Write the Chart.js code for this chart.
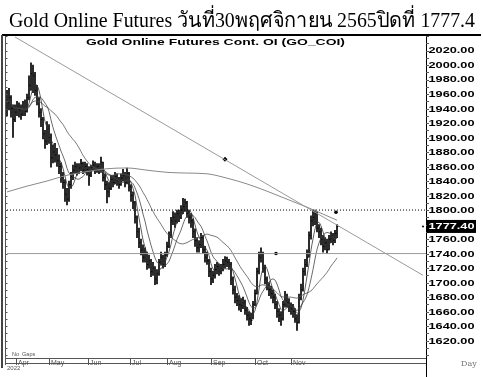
<!DOCTYPE html>
<html><head><meta charset="utf-8">
<script src="https://cdn.jsdelivr.net/npm/chart.js@4.4.0/dist/chart.umd.min.js"></script>
<style>html,body{margin:0;padding:0;background:#fff;}#wrap{position:relative;width:483px;height:377px;}</style>
</head><body><div id="wrap"><canvas id="c" width="483" height="377"></canvas></div>
<script>
const titleText = 'Gold Online Futures วันที่30พฤศจิกายน 2565ปิดที่ 1777.4';
const chartLabel = 'Gold Online Futures Cont. OI (GO_COI)';
const closes = [1948,1955,1940,1925,1935,1942,1938,1932,1940,1936,
1955,1972,1988,1985,1965,1950,1935,1925,1905,1895,
1912,1900,1872,1880,1876,1868,1860,1845,1838,1822,
1815,1835,1846,1855,1860,1852,1858,1864,1855,1860,
1856,1848,1858,1862,1855,1860,1857,1866,1845,1835,
1825,1830,1842,1838,1846,1840,1835,1844,1848,1838,
1850,1832,1820,1810,1790,1770,1755,1745,1735,1740,
1725,1730,1715,1720,1705,1712,1728,1735,1725,1738,
1750,1765,1785,1790,1785,1795,1790,1800,1805,1810,
1795,1790,1785,1770,1758,1748,1752,1762,1745,1735,
1730,1715,1705,1710,1718,1722,1715,1720,1725,1730,
1728,1725,1705,1690,1680,1675,1670,1668,1672,1662,
1655,1650,1648,1670,1685,1715,1735,1740,1720,1705,
1695,1690,1685,1680,1670,1660,1655,1650,1670,1680,
1672,1668,1665,1660,1650,1645,1680,1690,1715,1725,
1735,1765,1785,1790,1795,1775,1770,1760,1750,1755,
1745,1760,1765,1758,1768,1777.4];
const highs = [1965,1968,1958,1945,1945,1950,1948,1945,1950,1952,
1960,1985,2003,2000,1990,1972,1955,1940,1928,1910,
1922,1918,1905,1890,1892,1885,1876,1865,1852,1842,
1830,1840,1852,1862,1866,1864,1864,1870,1866,1866,
1864,1860,1862,1868,1866,1864,1864,1873,1866,1850,
1840,1838,1848,1848,1852,1850,1845,1850,1856,1852,
1858,1852,1835,1825,1812,1792,1775,1760,1752,1748,
1742,1738,1732,1728,1722,1718,1732,1742,1738,1742,
1756,1770,1790,1798,1796,1800,1800,1806,1816,1815,
1812,1800,1795,1788,1774,1762,1758,1768,1765,1750,
1742,1732,1720,1716,1725,1728,1726,1725,1732,1736,
1735,1732,1728,1708,1695,1685,1682,1678,1680,1676,
1666,1660,1658,1674,1690,1720,1742,1748,1742,1724,
1708,1700,1695,1690,1684,1674,1664,1660,1674,1688,
1684,1678,1672,1670,1664,1656,1684,1698,1720,1732,
1745,1770,1792,1800,1800,1798,1780,1775,1765,1762,
1760,1765,1770,1768,1772,1780];
const lows = [1930,1938,1928,1900,1922,1930,1928,1925,1930,1930,
1935,1952,1965,1962,1958,1945,1928,1915,1898,1885,
1890,1892,1859,1865,1866,1860,1850,1838,1830,1812,
1807,1812,1830,1842,1850,1848,1850,1854,1850,1852,
1848,1834,1846,1854,1850,1852,1850,1852,1840,1828,
1810,1818,1828,1832,1836,1834,1830,1834,1840,1832,
1836,1826,1812,1802,1782,1762,1748,1738,1728,1728,
1718,1720,1708,1710,1697,1698,1710,1724,1720,1722,
1736,1748,1762,1780,1776,1782,1784,1788,1795,1798,
1790,1782,1776,1762,1750,1742,1742,1748,1740,1728,
1725,1708,1697,1700,1706,1712,1710,1712,1716,1720,
1722,1718,1697,1684,1672,1668,1662,1660,1664,1656,
1648,1641,1642,1650,1668,1684,1712,1728,1714,1698,
1690,1682,1678,1672,1664,1652,1646,1641,1648,1666,
1666,1660,1656,1652,1645,1634,1644,1676,1688,1710,
1722,1735,1760,1778,1780,1770,1762,1752,1742,1745,
1740,1745,1755,1752,1755,1762];
const longMAIdx = [0,10,20,30,40,50,60,70,80,90,100,110,120,130,140,150,160,165];
const longMAVal = [1825,1833,1840,1848,1853,1857,1858,1855,1852,1851,1850,1844,1836,1826,1815,1804,1792,1786];
const maPeriods = [5,10,25];
const months = ['Apr','May','Jun','Jul','Aug','Sep','Oct','Nov'];
const monthStart = [4.5,21,40.5,61.5,80,102,124,142];
const yTicks = [2020,2000,1980,1960,1940,1920,1900,1880,1860,1840,1820,1800,1760,1740,1720,1700,1680,1660,1640,1620];
const lastPrice = 1777.4;
const trendPts = [[4,2038.6],[208,1710]];
const resistance = 1800, support = 1740;
const diamondPt = [109,1870];
const dotPts = [[164.5,1797],[134.5,1740]];

function sma(arr,n){return arr.map((v,i)=>{const s=Math.max(0,i-n+1);let t=0;for(let k=s;k<=i;k++)t+=arr[k];return t/(i-s+1);});}

const datasets = [];
datasets.push({type:'line',data:trendPts.map(p=>({x:p[0],y:p[1]})),borderColor:'#9a9a9a',borderWidth:1,pointRadius:0});
datasets.push({type:'line',data:longMAIdx.map((x,k)=>({x:x,y:longMAVal[k]})),borderColor:'#8a8a8a',borderWidth:1,pointRadius:0,cubicInterpolationMode:'monotone'});
datasets.push({type:'line',data:[{x:0,y:resistance},{x:209.5,y:resistance}],borderColor:'#000',borderWidth:1,borderDash:[1,2],pointRadius:0});
datasets.push({type:'line',data:[{x:0,y:support},{x:209.5,y:support}],borderColor:'#9a9a9a',borderWidth:1,pointRadius:0});
maPeriods.forEach((p,k)=>{datasets.push({type:'line',data:sma(closes,p).map((v,i)=>({x:i,y:v})),borderColor:['#333','#444','#555'][k],borderWidth:0.8,pointRadius:0,tension:0.3});});
datasets.push({type:'bar',data:highs.map((h,i)=>({x:i,y:[lows[i],h]})),backgroundColor:'#000',barThickness:1,grouped:false});
datasets.push({type:'scatter',data:closes.map((c,i)=>({x:i+0.4,y:c})),pointStyle:'line',radius:0.7,borderColor:'#000',borderWidth:1});
datasets.push({type:'scatter',data:[{x:diamondPt[0],y:diamondPt[1]}],pointStyle:'rectRot',radius:2.5,backgroundColor:'#000',borderColor:'#000',borderWidth:0});
datasets.push({type:'scatter',data:dotPts.map(p=>({x:p[0],y:p[1]})),pointStyle:'circle',radius:1.8,backgroundColor:'#000',borderColor:'#000',borderWidth:0});

function fitText(ctx,text,x,y,w){const m=ctx.measureText(text).width;ctx.save();ctx.translate(x,y);ctx.scale(w/m,1);ctx.fillText(text,0,0);ctx.restore();}

const deco = {id:'deco',afterDraw(chart){
  const ctx=chart.ctx, a=chart.chartArea, xs=chart.scales.x, ys=chart.scales.y;
  ctx.save();
  ctx.fillStyle='#000';ctx.textBaseline='alphabetic';ctx.textAlign='left';
  ctx.font='21px "Liberation Serif","Times New Roman",serif';
  fitText(ctx,titleText,9,27,466);
  ctx.strokeStyle='#000';ctx.lineWidth=2;
  ctx.beginPath();ctx.moveTo(2,a.top-1);ctx.lineTo(481,a.top-1);ctx.stroke();
  ctx.strokeStyle='#444';ctx.lineWidth=2;
  ctx.beginPath();ctx.moveTo(2,a.top-1);ctx.lineTo(2,368);ctx.stroke();
  ctx.strokeStyle='#000';ctx.lineWidth=1;
  ctx.beginPath();ctx.moveTo(a.right+0.5,a.top);ctx.lineTo(a.right+0.5,377);ctx.stroke();
  ctx.strokeStyle='#555';
  ctx.beginPath();ctx.moveTo(a.left+0.5,a.top);ctx.lineTo(a.left+0.5,365);ctx.stroke();
  ctx.beginPath();
  for(let v=1600;v<=2040;v+=10){const y=Math.round(ys.getPixelForValue(v))+0.5;ctx.moveTo(a.left,y);ctx.lineTo(a.left+2.5,y);ctx.moveTo(a.right,y);ctx.lineTo(a.right+3,y);}
  ctx.stroke();
  ctx.strokeStyle='#555';ctx.lineWidth=1;
  ctx.beginPath();ctx.moveTo(a.left,a.bottom+0.5);ctx.lineTo(a.right,a.bottom+0.5);
  ctx.moveTo(a.left,a.bottom+5.5);ctx.lineTo(a.right,a.bottom+5.5);ctx.stroke();
  ctx.font='7px "Liberation Sans",Arial,sans-serif';ctx.fillStyle='#555';ctx.textBaseline='alphabetic';
  months.forEach((m,k)=>{const x=Math.round(xs.getPixelForValue(monthStart[k]))+0.5;
    ctx.beginPath();ctx.moveTo(x,a.bottom);ctx.lineTo(x,a.bottom+7);ctx.stroke();
    ctx.fillText(m,x+1.5,a.bottom+6.5);});
  ctx.font='5.5px "Liberation Sans",Arial,sans-serif';
  ctx.fillText('No  Gaps',12,a.bottom-2);
  ctx.font='6px "Liberation Sans",Arial,sans-serif';
  ctx.fillText('2022',7,370);
  ctx.font='8px "DejaVu Serif",serif';ctx.fillStyle='#777';
  ctx.fillText('Day',461,366);
  ctx.fillStyle='#000';ctx.font='bold 9.5px "Liberation Sans",Arial,sans-serif';
  fitText(ctx,chartLabel,86,45,259);
  ctx.font='bold 9px "Liberation Sans",Arial,sans-serif';ctx.textBaseline='middle';
  yTicks.forEach(v=>{const y=ys.getPixelForValue(v);fitText(ctx,v.toFixed(2),428.5,y+0.5,46);});
  const yl=ys.getPixelForValue(lastPrice);
  ctx.fillStyle='#000';ctx.fillRect(427,yl-6.5,49,13);
  ctx.fillStyle='#fff';fitText(ctx,lastPrice.toFixed(2),428.5,yl+0.5,46);
  ctx.fillStyle='#000';ctx.beginPath();ctx.arc(423,yl,1,0,Math.PI*2);ctx.fill();
  ctx.restore();
}};

new Chart(document.getElementById('c'),{
  type:'bar',
  data:{datasets:datasets},
  options:{responsive:false,animation:false,devicePixelRatio:1,
    layout:{padding:{left:5,top:36,right:57,bottom:19}},
    plugins:{legend:{display:false},tooltip:{enabled:false}},
    scales:{x:{type:'linear',min:-1,max:209.5,offset:false,display:false},
            y:{type:'linear',min:1596,max:2040,display:false}}},
  plugins:[deco]
});
</script></body></html>
